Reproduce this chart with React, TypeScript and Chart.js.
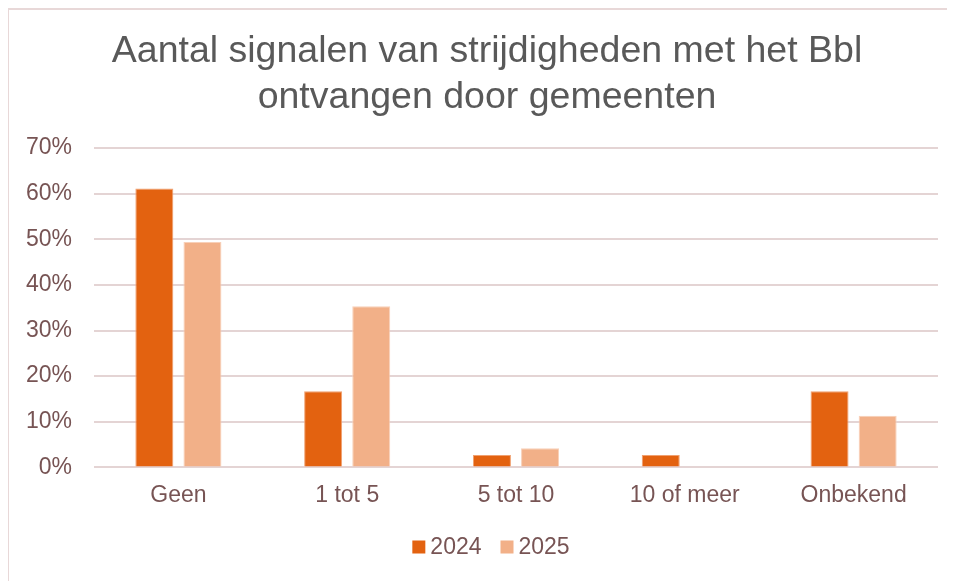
import React, { useEffect, useRef } from "react";
import { Chart, registerables } from "chart.js";

Chart.register(...registerables);

const categories = ["Geen", "1 tot 5", "5 tot 10", "10 of meer", "Onbekend"];
const series2024 = [61.1, 16.7, 2.7, 2.7, 16.7];
const series2025 = [49.4, 35.3, 4.2, 0, 11.3];
const seriesLabels = ["2024", "2025"];
const seriesColors = ["#E36210", "#F2B088"];
const titleLines = ["Aantal signalen van strijdigheden met het Bbl", "ontvangen door gemeenten"];

const FONT = "'Liberation Sans', Arial, sans-serif";
const TEXT_COLOR = "#775454";

const titleAndLegend = {
  id: "titleAndLegend",
  afterDraw(chart: any) {
    const ctx = chart.ctx as CanvasRenderingContext2D;
    ctx.save();
    // title
    ctx.fillStyle = "#595959";
    ctx.font = `37.5px ${FONT}`;
    ctx.textAlign = "center";
    ctx.textBaseline = "alphabetic";
    const cx = 478;
    titleLines.forEach((line, i) => ctx.fillText(line, cx, 52 + i * 46));
    // legend
    ctx.font = `23px ${FONT}`;
    ctx.textAlign = "left";
    ctx.textBaseline = "middle";
    const box = 13;
    const gap = 5;
    const itemGap = 19;
    const ds = chart.data.datasets;
    const widths = ds.map((d: any) => box + gap + ctx.measureText(d.label).width);
    const total = widths.reduce((a: number, b: number) => a + b, 0) + itemGap * (ds.length - 1);
    let x = 482 - total / 2;
    const y = 537;
    ds.forEach((d: any, i: number) => {
      ctx.fillStyle = d.backgroundColor;
      ctx.fillRect(x, y - box / 2, box, box);
      ctx.fillStyle = TEXT_COLOR;
      ctx.fillText(d.label, x + box + gap, y + 1);
      x += widths[i] + itemGap;
    });
    ctx.restore();
  },
};

export default function App() {
  const ref = useRef<HTMLCanvasElement | null>(null);
  useEffect(() => {
    if (!ref.current) return;
    const chart = new Chart(ref.current, {
      type: "bar",
      data: {
        labels: categories,
        datasets: [
          {
            label: seriesLabels[0],
            data: series2024,
            backgroundColor: seriesColors[0],
            borderColor: "#F0A070",
            borderWidth: 1,
            categoryPercentage: 0.57,
            barPercentage: 0.79,
          },
          {
            label: seriesLabels[1],
            data: series2025,
            backgroundColor: seriesColors[1],
            borderColor: "#F8D0B8",
            borderWidth: 1,
            categoryPercentage: 0.57,
            barPercentage: 0.79,
          },
        ],
      },
      plugins: [titleAndLegend],
      options: {
        animation: false,
        responsive: true,
        maintainAspectRatio: false,
        layout: { padding: { left: 17, right: 16, top: 138, bottom: 66 } },
        plugins: {
          title: { display: false },
          legend: { display: false },
          tooltip: { enabled: false },
        },
        scales: {
          x: {
            grid: { display: false },
            border: { display: false },
            ticks: {
              color: TEXT_COLOR,
              padding: 6,
              font: { family: FONT, size: 23 },
            },
          },
          y: {
            min: 0,
            max: 70,
            afterFit: (scale: any) => {
              scale.width = 68;
            },
            grid: { color: "#E4D4D4", lineWidth: 2, drawTicks: false },
            border: { display: false },
            ticks: {
              stepSize: 10,
              padding: 22,
              color: TEXT_COLOR,
              font: { family: FONT, size: 23 },
              callback: (v: any) => v + "%",
            },
          },
        },
      },
    });
    return () => chart.destroy();
  }, []);
  return (
    <div
      style={{
        position: "relative",
        width: 947,
        height: 573,
        marginLeft: -1,
        borderLeft: "2px solid #E8D8D8",
        borderTop: "2px solid #E8D8D8",
        boxSizing: "border-box",
        background: "#fff",
      }}
    >
      <canvas ref={ref} />
    </div>
  );
}
